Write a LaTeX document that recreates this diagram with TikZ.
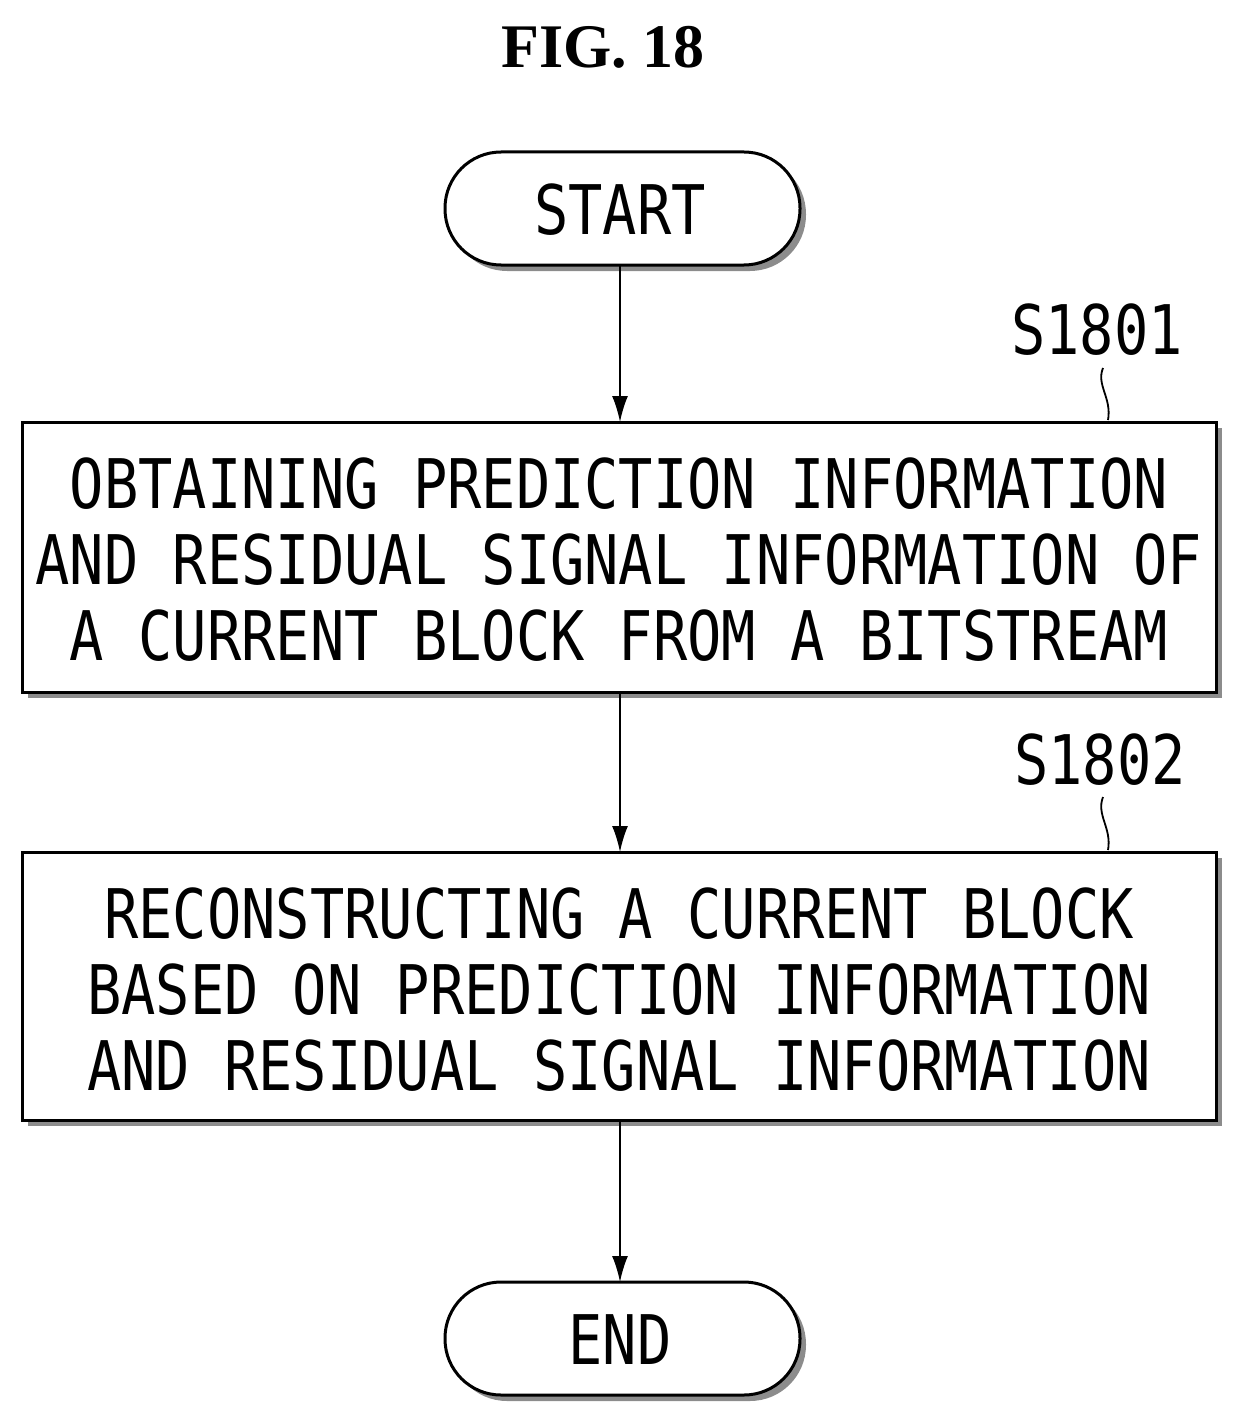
\documentclass[tikz,border=0pt]{standalone}
\usepackage{fontspec}
\setmonofont{DejaVu Sans Mono}
\setmainfont{Liberation Serif}
\usepackage{graphicx}
\usetikzlibrary{arrows.meta}
\newcommand{\tl}[1]{\scalebox{1}[1.2]{#1}}
\begin{document}
\begin{tikzpicture}[x=1pt,y=-1pt,
  txt/.style={font=\ttfamily\fontsize{57}{60}\selectfont, align=center},
  box/.style={draw, line width=3pt, fill=white},
  shadow/.style={fill=black!45},
  arr/.style={-{Latex[length=26pt,width=16pt]}, line width=1.8pt}]
\useasboundingbox (0,0) rectangle (1246,1423);
\node (title) at (603,47) {\fontsize{62}{64}\selectfont\bfseries FIG. 18};
% START
\fill[shadow, rounded corners=56pt] (451,158) rectangle (806,271);
\draw[box, rounded corners=56pt] (445,152) rectangle (800,265);
\node[txt] (start) at (620,210) {\tl{START}};
\coordinate (startb) at (620,265);
% Box 1
\fill[shadow] (28,428) rectangle (1222,698);
\draw[box] (22,422) rectangle (1216,692);
\node[txt] (b1) at (619,560) {\tl{OBTAINING PREDICTION INFORMATION}\\[16pt]\tl{AND RESIDUAL SIGNAL INFORMATION OF}\\[16pt]\tl{A CURRENT BLOCK FROM A BITSTREAM}};
\coordinate (b1t) at (620,422);
\coordinate (b1b) at (620,692);
\node[txt] (l1) at (1097,330) {\tl{S1801}};
\draw[line width=1.8pt] (1103,368) .. controls (1096,385) and (1112,398) .. (1108,420);
% Box 2
\fill[shadow] (28,858) rectangle (1222,1126);
\draw[box] (22,852) rectangle (1216,1120);
\node[txt] (b2) at (619,990) {\tl{RECONSTRUCTING A CURRENT BLOCK}\\[16pt]\tl{BASED ON PREDICTION INFORMATION}\\[16pt]\tl{AND RESIDUAL SIGNAL INFORMATION}};
\coordinate (b2t) at (620,852);
\coordinate (b2b) at (620,1120);
\node[txt] (l2) at (1100,760) {\tl{S1802}};
\draw[line width=1.8pt] (1103,797) .. controls (1096,815) and (1112,828) .. (1108,850);
% END
\fill[shadow, rounded corners=56pt] (451,1288) rectangle (806,1401);
\draw[box, rounded corners=56pt] (445,1282) rectangle (800,1395);
\node[txt] (end) at (620,1340) {\tl{END}};
\coordinate (endt) at (620,1282);
\draw[arr] (startb) -- (b1t);
\draw[arr] (b1b) -- (b2t);
\draw[arr] (b2b) -- (endt);
\end{tikzpicture}
\end{document}
